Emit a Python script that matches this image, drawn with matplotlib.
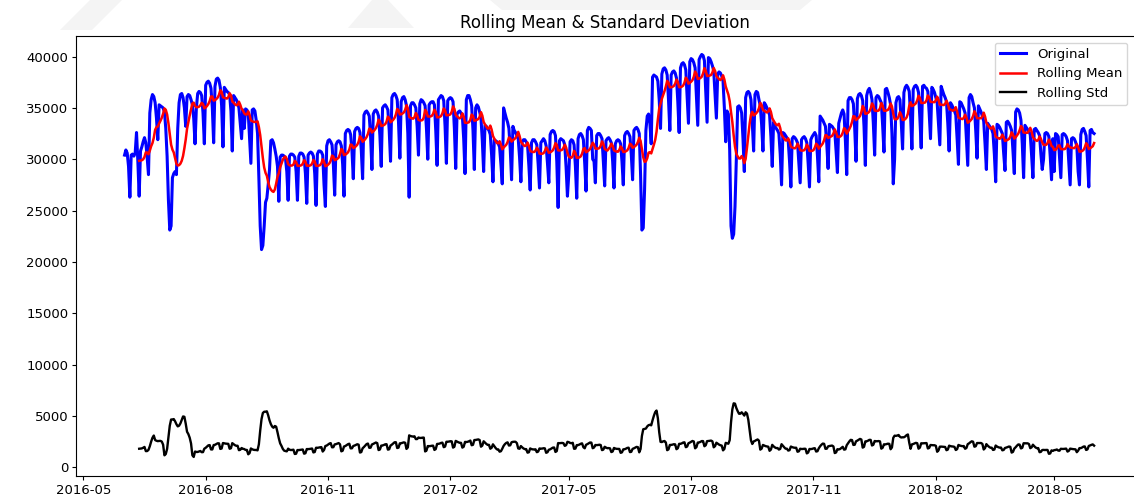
import numpy as np
import pandas as pd
import matplotlib
matplotlib.use('Agg')
import matplotlib.pyplot as plt
import matplotlib.dates as mdates
from matplotlib.patches import Polygon

# daily consumption, one list per month (first day 2016-06-01)
jun16 = [30400, 30900, 30600, 29300, 26300, 30400, 30500, 30300, 30600, 32600, 29800, 26400,
         30800, 31200, 31700, 32100, 31600, 30200, 28500, 34500, 35800, 36300, 36100, 35500,
         34000, 31900, 35300, 35200, 35100, 35000]
jul16 = [34600, 33000, 30300, 26000, 23100, 23500, 28200, 28600, 28800, 28500, 33000, 35500,
         36300, 36400, 36000, 35000, 33200, 36100, 36300, 36200, 35800, 35300, 34000, 31500,
         35000, 36400, 36600, 36500, 36200, 34500, 31500]
aug16 = [37200, 37500, 37600, 37400, 36900, 35000, 31600, 37100, 37800, 37900, 37700, 37000,
         35200, 31200, 37000, 36800, 36600, 36500, 36300, 34700, 30800, 36200, 36000, 35800,
         35500, 35000, 33500, 32000, 34800, 33000, 34900]
sep16 = [34800, 34500, 32000, 29600, 34800, 34900, 34700, 33800, 32500, 28200, 23500, 21200,
         21600, 23500, 25800, 26200, 27500, 29000, 31800, 31900, 31600, 31000, 30300, 29300,
         25900, 30200, 30400, 30400, 30300, 30100]
oct16 = [28800, 26000, 30300, 30500, 30500, 30400, 30200, 28800, 26000, 30300, 30600, 30600,
         30500, 30200, 28600, 25700, 30400, 30600, 30700, 30600, 30300, 28600, 25500, 30500,
         30800, 30800, 30700, 30400, 27500, 25400, 31300]
nov16 = [31800, 31900, 31700, 31400, 29500, 26500, 31400, 31700, 31800, 31700, 31300, 29500,
         26400, 32500, 32800, 32900, 32800, 32400, 30800, 28100, 32700, 33000, 33100, 33000,
         32600, 30900, 28100, 34300, 34600, 34700]
dec16 = [34500, 34200, 32200, 29000, 34400, 34700, 34800, 34600, 34200, 32300, 29300, 35000,
         35200, 35300, 35100, 34800, 32800, 29800, 36000, 36300, 36400, 36200, 35800, 33600,
         30100, 35600, 36000, 36100, 35800, 35200, 32500]
jan17 = [26300, 35200, 35500, 35500, 35300, 35000, 33200, 30400, 35400, 35800, 35700, 35500,
         35200, 33000, 30000, 35300, 35500, 35600, 35600, 35300, 32800, 29400, 35800, 36000,
         36200, 36100, 35700, 33200, 29600, 35700, 35900]
feb17 = [36000, 35900, 35600, 33000, 29100, 34400, 34600, 34700, 34500, 34200, 32000, 28600,
         35800, 36200, 36200, 35800, 35200, 32800, 29000, 35000, 35300, 35100, 34600, 34000,
         31800, 28800, 33300, 33200]
mar17 = [33000, 32800, 32400, 30400, 27800, 31900, 31800, 31700, 31500, 31200, 29500, 27600,
         35000, 34500, 34000, 33600, 33000, 31000, 28000, 33200, 32800, 32600, 32300, 32000,
         30200, 27800, 31700, 31900, 31900, 31700, 31400]
apr17 = [29400, 27000, 31600, 31900, 31900, 31700, 31400, 29500, 27200, 31600, 31800, 32000,
         31800, 31300, 29600, 27700, 32400, 32700, 32800, 32700, 32300, 29800, 25300, 31800,
         32000, 31900, 31800, 31400, 29200, 26400]
may17 = [28500, 31700, 31900, 31800, 31400, 29300, 26200, 32000, 32400, 32500, 32300, 31900,
         29600, 26900, 32800, 33100, 33000, 32800, 30000, 29800, 27700, 32300, 32500, 32500,
         32300, 32000, 29800, 27400, 31800, 32000, 32100]
jun17 = [31900, 31600, 29800, 27200, 31500, 31800, 31900, 31800, 31500, 29800, 27500, 32300,
         32600, 32700, 32500, 32200, 30500, 28000, 32800, 33000, 33100, 32900, 32500, 28500,
         23100, 23300, 27000, 32800, 34200, 34400]
jul17 = [33500, 31500, 38000, 38200, 38100, 38000, 37600, 35800, 33000, 38300, 38800, 38900,
         38700, 38200, 35800, 32800, 38200, 38500, 38600, 38400, 37900, 35600, 32600, 38900,
         39300, 39400, 39200, 38700, 36200, 33500, 39500]
aug17 = [39800, 39700, 39400, 38900, 36200, 33300, 39700, 40000, 40200, 40100, 39600, 36500,
         33600, 39900, 39800, 39500, 39100, 38600, 36300, 34000, 38300, 38500, 38400, 38100,
         37600, 35000, 31700, 34700, 34400, 30900, 23500]
sep17 = [22300, 22700, 25400, 30000, 35100, 35200, 35000, 34500, 32000, 28800, 36000, 36500,
         36600, 36400, 35800, 33500, 30800, 36300, 36600, 36500, 35800, 35200, 33400, 30800,
         35500, 35300, 35000, 34700, 34300, 32200]
oct17 = [29300, 33600, 33200, 33000, 32800, 32500, 30500, 27500, 32600, 32500, 32300, 32100,
         31800, 29800, 27300, 32000, 32200, 32100, 31900, 31600, 29700, 27700, 31900, 32100,
         32200, 32000, 31600, 29600, 27300, 31900, 32200]
nov17 = [32400, 32600, 32300, 30300, 27800, 34200, 34000, 33800, 33500, 33200, 31500, 29100,
         33400, 33300, 33200, 33000, 32700, 30800, 28700, 33500, 34000, 34500, 34800, 34400,
         31800, 28500, 35700, 36000, 36000, 35800]
dec17 = [35400, 33000, 29800, 35900, 36300, 36400, 36200, 35700, 33200, 29400, 36200, 36700,
         36900, 36500, 35800, 33500, 30400, 36000, 36200, 36100, 35800, 35500, 33300, 30700,
         36800, 36900, 36500, 36000, 35300, 32500, 27600]
jan18 = [30000, 35500, 36000, 36100, 35800, 33600, 31000, 36500, 37000, 37200, 37000, 36600,
         34300, 31000, 36800, 37100, 37200, 37000, 36500, 34000, 31100, 37100, 37200, 37000,
         36900, 36600, 34500, 32000, 37000, 36800, 36500]
feb18 = [36000, 35500, 33500, 31400, 37100, 36700, 36300, 36000, 35600, 33500, 30800, 35500,
         35300, 35000, 34700, 34300, 32000, 29500, 35600, 35500, 35200, 34900, 34500, 32000,
         29400, 36000, 36300, 36100]
mar18 = [35500, 35000, 32800, 30100, 35200, 34900, 34600, 34200, 33700, 31500, 29000, 33500,
         33300, 33100, 32900, 32500, 30500, 27800, 33400, 33300, 33100, 32800, 32500, 30600,
         28900, 33600, 33700, 33500, 33200, 32800, 30800]
apr18 = [28600, 34600, 34900, 34800, 34500, 33800, 31500, 28200, 33300, 33100, 32900, 32700,
         32400, 30400, 28200, 32900, 33000, 32800, 32600, 32300, 30500, 29000, 30000, 32500,
         32600, 32500, 32200, 30300, 28000, 32000]
may18 = [28800, 32500, 32400, 32200, 30200, 28200, 32400, 32500, 32400, 32200, 31800, 29600,
         27500, 32000, 32100, 32000, 31700, 31300, 28800, 27500, 32400, 32900, 33000, 32700,
         32300, 30000, 27300, 32800, 32900, 32600, 32500]

months = [jun16, jul16, aug16, sep16, oct16, nov16, dec16,
          jan17, feb17, mar17, apr17, may17, jun17, jul17, aug17, sep17, oct17, nov17, dec17,
          jan18, feb18, mar18, apr18, may18]

values = np.concatenate(months).astype(float)
dates = pd.date_range('2016-06-01', periods=len(values), freq='D')
ts = pd.Series(values, index=dates)

# rolling statistics
window = 12
rolmean = ts.rolling(window=window).mean()
rolstd = ts.rolling(window=window).std()

W, H = 1134, 498
fig = plt.figure(figsize=(W / 100, H / 100), dpi=100)

# faint grey shapes at the top of the page (behind everything)
for pts in ([(90, 0), (122, 0), (92, 30), (60, 30)],
            [(348, 28), (372, 0), (388, 0), (414, 28)],
            [(490, 0), (812, 0), (800, 10), (502, 10)]):
    fig.patches.append(Polygon([(x / W, 1 - y / H) for x, y in pts], closed=True,
                               transform=fig.transFigure, facecolor='#f4f4f4',
                               edgecolor='none', zorder=-5))

ax = fig.add_axes([76 / W, 1 - 476 / H, (W - 76) / W, (476 - 36) / H])
ax.set_zorder(1)

ax.plot(ts.index, ts.values, color='blue', lw=2.2, label='Original')
ax.plot(rolmean.index, rolmean.values, color='red', lw=1.8, label='Rolling Mean')
ax.plot(rolstd.index, rolstd.values, color='black', lw=1.7, label='Rolling Std')

ax.legend(loc='upper right', fontsize=9.5)
ax.set_title('Rolling Mean & Standard Deviation', fontsize=12)

ax.xaxis.set_major_locator(mdates.MonthLocator(bymonth=[2, 5, 8, 11]))
ax.xaxis.set_major_formatter(mdates.DateFormatter('%Y-%m'))
ax.set_xlim(pd.Timestamp('2016-04-25 12:00'), pd.Timestamp('2018-06-30'))
ax.set_ylim(-850, 42000)
ax.tick_params(labelsize=9.5, length=3, pad=2.5)
ax.spines['right'].set_visible(False)

fig.savefig('out.png', dpi=100)
